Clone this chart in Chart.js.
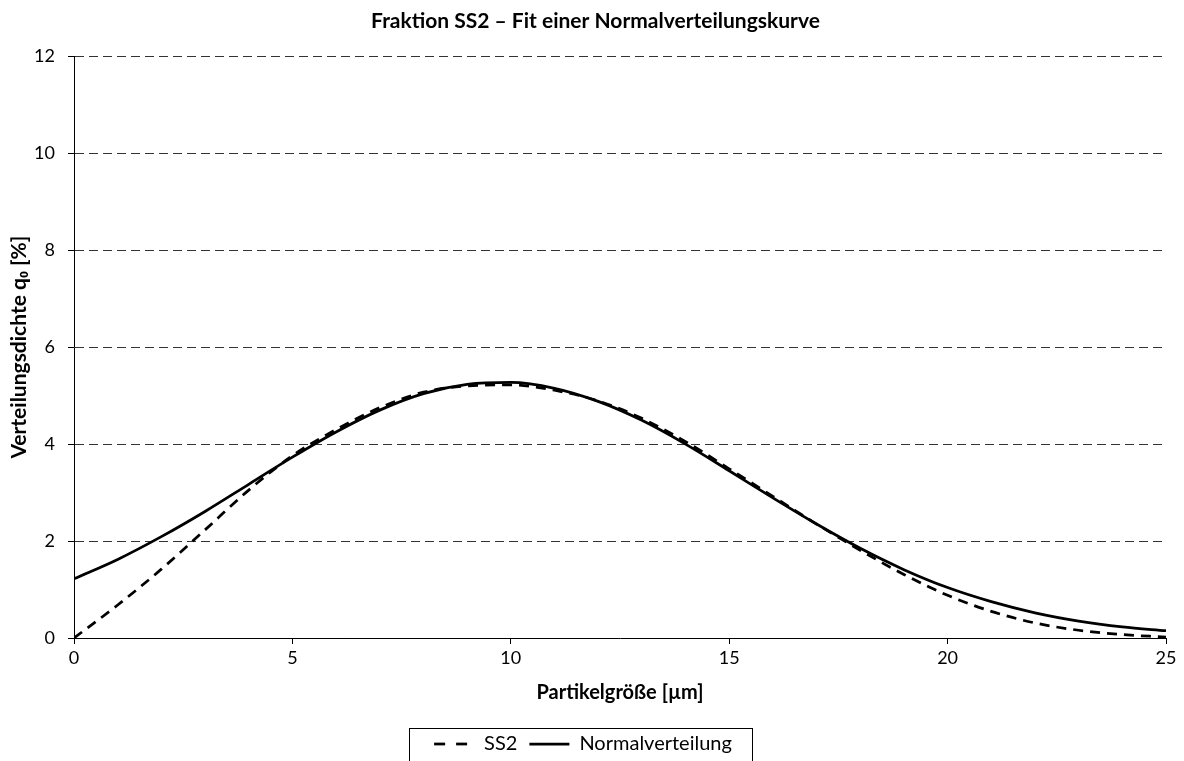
<!DOCTYPE html>
<html>
<head>
<meta charset="utf-8">
<script src="https://cdn.jsdelivr.net/npm/chart.js@4.4.1/dist/chart.umd.min.js"></script>
<style>
  html, body { margin: 0; padding: 0; background: #fff; overflow: hidden; }
  #wrap { width: 1184px; height: 761px; }
</style>
</head>
<body>
<div id="wrap"><canvas id="fitChart" width="1184" height="761"></canvas></div>
<script>
// particle sizes in µm
const sizes = [0, 1, 2, 3, 4, 5, 6, 7, 8, 9, 10, 11, 12, 13, 14, 15, 16, 17, 18, 19, 20, 21, 22, 23, 24, 25];
// measured density SS2 (dashed)
const ss2Values = [0, 0.68, 1.42, 2.23, 3.05, 3.76, 4.30, 4.75, 5.07, 5.20, 5.22, 5.11, 4.89, 4.53, 4.05, 3.49, 2.92, 2.35, 1.81, 1.31, 0.88, 0.55, 0.31, 0.16, 0.07, 0.02];
// fitted normal distribution (solid)
const normalValues = [1.22, 1.62, 2.09, 2.61, 3.17, 3.73, 4.25, 4.70, 5.04, 5.23, 5.27, 5.15, 4.88, 4.49, 4.00, 3.45, 2.89, 2.35, 1.85, 1.41, 1.04, 0.75, 0.52, 0.35, 0.23, 0.15];

const xTicks = [0, 5, 10, 15, 20, 25];
const yTicks = [0, 2, 4, 6, 8, 10, 12];

const FONT = 'Lato, "Open Sans", sans-serif';
const SS2_DASH = [10, 7];

// frame around the legend, like the Excel legend box; title nudged right
const legendFrame = {
    id: 'legendFrame',
    afterLayout(chart) {
        if (chart.titleBlock) chart.titleBlock.left += 25;
    },
    afterDraw(chart) {
        const lg = chart.legend;
        if (!lg || !lg.legendHitBoxes.length) return;
        const boxes = lg.legendHitBoxes;
        const left = boxes[0].left - 25;
        const right = boxes[boxes.length - 1].left + boxes[boxes.length - 1].width + 20;
        const ctx = chart.ctx;
        ctx.save();
        ctx.strokeStyle = '#000';
        ctx.lineWidth = 1;
        ctx.strokeRect(Math.round(left) + 0.5, 728.5, Math.round(right - left), 40);
        ctx.restore();
    }
};

new Chart(document.getElementById('fitChart'), {
    type: 'line',
    data: {
        datasets: [{
            label: 'SS2',
            data: sizes.map((s, i) => ({ x: s, y: ss2Values[i] })),
            borderColor: '#000',
            backgroundColor: '#000',
            borderWidth: 2.75,
            borderDash: SS2_DASH,
            pointRadius: 0,
            cubicInterpolationMode: 'monotone',
            fill: false
        }, {
            label: 'Normalverteilung',
            data: sizes.map((s, i) => ({ x: s, y: normalValues[i] })),
            borderColor: '#000',
            backgroundColor: '#000',
            borderWidth: 2.75,
            pointRadius: 0,
            cubicInterpolationMode: 'monotone',
            fill: false
        }]
    },
    options: {
        responsive: false,
        animation: false,
        layout: { padding: { left: 0, right: 18, top: 0, bottom: -3 } },
        plugins: {
            title: {
                display: true,
                text: 'Fraktion SS2 \u2013 Fit einer Normalverteilungskurve',
                color: '#000',
                font: { family: FONT, size: 21, weight: 'bold' },
                padding: { top: 9, bottom: 22 }
            },
            legend: {
                position: 'bottom',
                labels: {
                    color: '#000',
                    font: { family: FONT, size: 20 },
                    usePointStyle: true,
                    pointStyle: 'line',
                    pointStyleWidth: 40,
                    padding: 12,
                    generateLabels(chart) {
                        const items = Chart.defaults.plugins.legend.labels.generateLabels(chart);
                        items.forEach(it => {
                            it.lineDash = it.datasetIndex === 0 ? [11, 11] : [];
                            it.lineWidth = 2.75;
                            it.strokeStyle = '#000';
                        });
                        return items;
                    }
                }
            },
            tooltip: { enabled: false }
        },
        scales: {
            x: {
                type: 'linear',
                min: 0,
                max: 25,
                afterBuildTicks: scale => { scale.ticks = xTicks.map(v => ({ value: v })); },
                afterFit: scale => { scale.height = 84; },
                ticks: { color: '#000', font: { family: FONT, size: 18 }, padding: 3, maxRotation: 0 },
                grid: { drawOnChartArea: false, drawTicks: true, tickLength: 6, tickColor: '#000' },
                border: { color: '#000', width: 1 },
                title: {
                    display: true,
                    text: 'Partikelgröße [µm]',
                    color: '#000',
                    font: { family: FONT, size: 20, weight: 'bold' },
                    padding: { top: 4, bottom: 17 }
                }
            },
            y: {
                type: 'linear',
                min: 0,
                max: 12,
                afterBuildTicks: scale => { scale.ticks = yTicks.map(v => ({ value: v })); },
                afterFit: scale => { scale.width = 74; },
                ticks: { color: '#000', font: { family: FONT, size: 18 }, padding: 13 },
                grid: { color: '#333', lineWidth: 1, drawTicks: true, tickLength: 6, tickColor: '#000' },
                border: { color: '#000', width: 1, dash: [9, 5] },
                title: {
                    display: true,
                    text: 'Verteilungsdichte q\u2080 [%]',
                    color: '#000',
                    font: { family: FONT, size: 21, weight: 'bold' },
                    padding: { top: 7, bottom: 4 }
                }
            }
        }
    },
    plugins: [legendFrame]
});
</script>
</body>
</html>
